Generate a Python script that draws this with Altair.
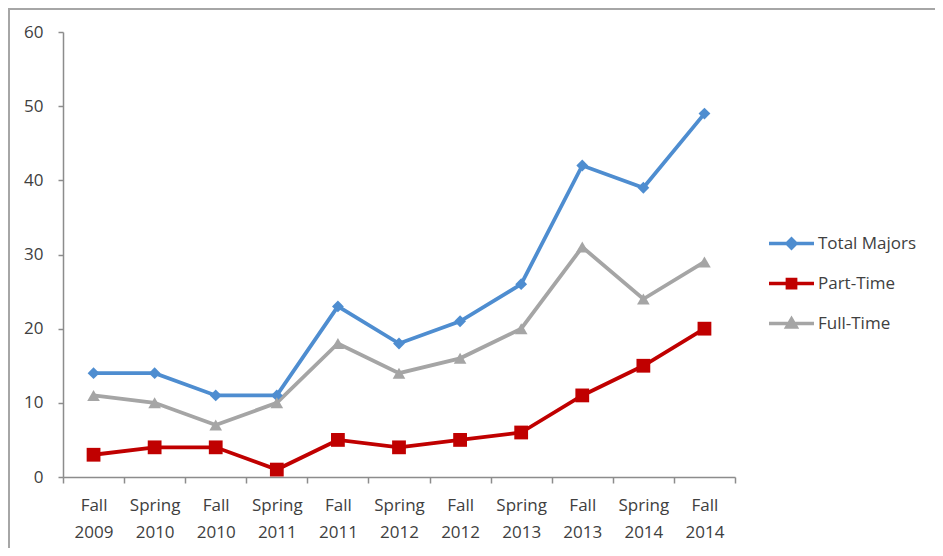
import altair as alt
import pandas as pd

terms = ["Fall 2009", "Spring 2010", "Fall 2010", "Spring 2011", "Fall 2011",
         "Spring 2012", "Fall 2012", "Spring 2013", "Fall 2013", "Spring 2014", "Fall 2014"]
total_majors = [14, 14, 11, 11, 23, 18, 21, 26, 42, 39, 49]
part_time = [3, 4, 4, 1, 5, 4, 5, 6, 11, 15, 20]
full_time = [11, 10, 7, 10, 18, 14, 16, 20, 31, 24, 29]
series_names = ["Total Majors", "Part-Time", "Full-Time"]
series_colors = ["#4E8DD0", "#C00000", "#A5A5A5"]
marker_shapes = ["diamond", "square", "triangle-up"]
marker_sizes = [140, 190, 160]
legend_shapes = [
    "M-3,0L3,0M0,-0.6L0.6,0L0,0.6L-0.6,0Z",
    "M-3,0L3,0M-0.55,-0.55L0.55,-0.55L0.55,0.55L-0.55,0.55Z",
    "M-3,0L3,0M0,-0.6L0.62,0.45L-0.62,0.45Z",
]

rows = []
for name, vals in zip(series_names, [total_majors, part_time, full_time]):
    for t, v in zip(terms, vals):
        rows.append({"term": t, "value": v, "series": name})
df = pd.DataFrame(rows)

FONT = "Open Sans"
TEXT = "#404040"
AXIS = "#8C8C8C"
FS = 17

x_enc = alt.X(
    "term:N", sort=terms, title=None,
    scale=alt.Scale(type="band", paddingInner=0, paddingOuter=0),
    axis=alt.Axis(tickBand="extent", labelAngle=0, labelExpr="split(datum.label, ' ')",
                  labelLineHeight=27, labelPadding=14, tickSize=6, labelFontSize=FS,
                  labelFont=FONT, labelColor=TEXT, domainColor=AXIS, tickColor=AXIS,
                  domainWidth=1.5, tickWidth=1.5, grid=False, labelBaseline="top"),
)
y_enc = alt.Y(
    "value:Q", title=None,
    scale=alt.Scale(domain=[0, 60], nice=False),
    axis=alt.Axis(values=[0, 10, 20, 30, 40, 50, 60], tickSize=5, labelPadding=15,
                  labelFontSize=FS, labelFont=FONT, labelColor=TEXT, domainColor=AXIS,
                  tickColor=AXIS, domainWidth=1.5, tickWidth=1.5, grid=False),
)
color_scale = alt.Scale(domain=series_names, range=series_colors)

shape_expr = ""
for name, path in zip(series_names[:-1], legend_shapes[:-1]):
    shape_expr += f"datum.value === '{name}' ? '{path}' : "
shape_expr += f"'{legend_shapes[-1]}'"

legend = alt.Legend(
    title=None, orient="none", legendX=697, legendY=202,
    labelFont=FONT, labelFontSize=FS, labelColor=TEXT,
    symbolSize=225, symbolStrokeWidth=3.5, rowPadding=17,
    labelOffset=17, symbolOffset=22,
    symbolType=alt.ExprRef(expr=shape_expr),
    symbolStrokeColor=alt.ExprRef(expr="scale('color', datum.value)"),
    symbolFillColor=alt.ExprRef(expr="scale('color', datum.value)"),
    symbolOpacity=1,
)
color_enc = alt.Color("series:N", scale=color_scale, legend=legend, sort=series_names)

base = alt.Chart(df)

lines = base.mark_line(strokeWidth=3.8).encode(
    x=x_enc, y=y_enc, color=color_enc, detail="series:N",
)

point_layers = []
for name, shp, sz in zip(series_names, marker_shapes, marker_sizes):
    point_layers.append(
        base.transform_filter(alt.datum.series == name)
        .mark_point(filled=True, opacity=1, shape=shp, size=sz)
        .encode(x=x_enc, y=y_enc, color=color_enc)
    )

border = alt.Chart(pd.DataFrame({"a": [0]})).mark_rect(
    fill="transparent", stroke="#A6A6A6", strokeWidth=2
).encode(
    x=alt.value(-54), x2=alt.value(900), y=alt.value(-23), y2=alt.value(530)
)

chart = alt.layer(border, lines, *point_layers).properties(
    width=672, height=445,
    background="white",
    autosize=alt.AutoSizeParams(type="none"),
    padding={"left": 55, "top": 24, "right": 200, "bottom": 71},
).configure_view(strokeWidth=0, stroke="transparent")

chart.save("out.html", embed_options={"renderer": "svg", "actions": False})
